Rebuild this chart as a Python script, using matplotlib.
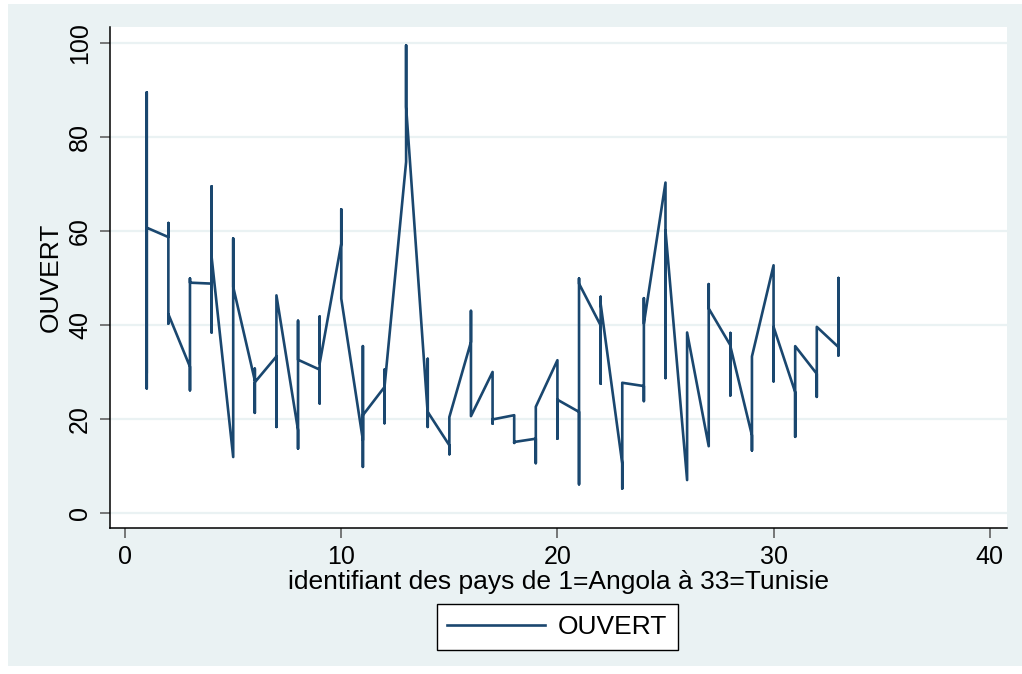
import numpy as np
import matplotlib
matplotlib.use("Agg")
import matplotlib.pyplot as plt
from matplotlib.patches import Rectangle

plt.rcParams['font.family'] = ['Liberation Sans', 'DejaVu Sans']

# OUVERT observations for each country, in panel order (country 1 .. 33)
ouvert_par_pays = [
    [30.0, 89.5, 55.0, 80.0, 26.5, 35.0, 60.7],   # 1 Angola
    [58.7, 61.7, 48.0, 40.3, 42.3],
    [31.1, 26.1, 40.0, 49.9, 49.0],
    [48.8, 69.5, 38.4, 60.0, 54.5],
    [11.9, 30.0, 58.4, 42.0, 48.1],
    [28.2, 30.7, 21.3, 25.0, 27.8],
    [33.3, 18.3, 40.0, 46.3],
    [17.6, 13.7, 40.9, 22.0, 32.6],
    [30.5, 23.3, 41.8, 31.8],
    [57.3, 64.6, 50.0, 45.6],
    [15.5, 35.5, 9.8, 20.8],
    [26.8, 19.1, 30.5, 26.8],
    [74.7, 99.5, 80.0, 93.0, 86.4],
    [21.1, 32.8, 18.3, 21.5],
    [14.4, 12.5, 20.4],
    [36.4, 43.0, 28.0, 20.6],
    [30.0, 19.0, 26.0, 19.9],
    [20.8, 14.9, 15.1],
    [15.8, 10.6, 18.0, 22.6],
    [32.5, 15.8, 28.0, 24.1],
    [21.5, 6.1, 30.0, 49.9, 48.8],
    [39.9, 27.5, 46.0, 44.5],
    [10.5, 5.2, 18.0, 27.7],
    [27.0, 23.8, 45.7, 40.3],
    [70.3, 28.7, 45.0, 60.1],
    [7.0, 30.0, 38.4],
    [14.2, 48.7, 26.0, 43.5],
    [35.7, 25.0, 38.3, 35.5],
    [16.5, 13.3, 30.0, 33.3],
    [52.7, 28.0, 45.0, 39.6],
    [25.7, 16.2, 35.5],
    [29.6, 24.7, 39.6],
    [35.3, 50.0, 33.5, 43.0],   # 33 Tunisie
]

x_ticks = [0, 10, 20, 30, 40]
y_ticks = [0, 20, 40, 60, 80, 100]

# long format: one row per country-year
pays = np.concatenate([[i + 1] * len(v) for i, v in enumerate(ouvert_par_pays)])
ouvert = np.concatenate(ouvert_par_pays)

bg = '#EAF2F3'
navy = '#1A476F'

fig = plt.figure(figsize=(10.22, 6.74), dpi=100)
fig.patches.append(Rectangle((8 / 1022, 8 / 674), 1014 / 1022, 662 / 674,
                             transform=fig.transFigure, facecolor=bg,
                             edgecolor='none', zorder=-10))

ax = fig.add_axes([110 / 1022, 1 - 528 / 674, (1007 - 110) / 1022, (528 - 27) / 674])
ax.set_facecolor('white')

ax.plot(pays, ouvert, color=navy, linewidth=1.9, label='OUVERT',
        solid_joinstyle='round', zorder=3)

ax.set_xlim(-0.7, 40.8)
ax.set_ylim(-3.2, 103.4)
ax.set_xticks(x_ticks)
ax.set_yticks(y_ticks)

ax.grid(axis='y', color=bg, linewidth=1.6, zorder=0)
ax.spines['top'].set_visible(False)
ax.spines['right'].set_visible(False)
for s in ('left', 'bottom'):
    ax.spines[s].set_linewidth(1.1)
    ax.spines[s].set_color('black')

ax.tick_params(axis='both', length=7, width=1.1, color='#555555',
               labelsize=18, pad=5)
ax.tick_params(axis='y', labelrotation=90, pad=6)
for lbl in ax.get_yticklabels():
    lbl.set_va('center')

ax.set_xlabel('identifiant des pays de 1=Angola à 33=Tunisie', fontsize=19, labelpad=1)
ax.set_ylabel('OUVERT', fontsize=19, labelpad=4)

leg = fig.legend(loc='center', bbox_to_anchor=(557.5 / 1022, 1 - 627 / 674),
                 fontsize=19, frameon=True, fancybox=False, framealpha=1,
                 handlelength=3.7, borderpad=0.4, borderaxespad=0,
                 handletextpad=0.5)
leg.get_frame().set_edgecolor('black')
leg.get_frame().set_linewidth(1.0)
leg.get_frame().set_facecolor('white')

fig.savefig('out.png', dpi=100, facecolor='white')
